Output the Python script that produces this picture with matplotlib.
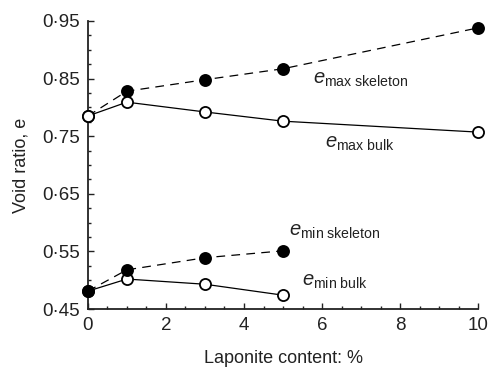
import matplotlib
matplotlib.use('Agg')
import matplotlib.pyplot as plt
from matplotlib.ticker import MultipleLocator, FixedLocator, FuncFormatter

plt.rcParams['font.family'] = ['Liberation Sans', 'DejaVu Sans']
plt.rcParams['mathtext.fontset'] = 'custom'
plt.rcParams['mathtext.rm'] = 'Liberation Sans'
plt.rcParams['mathtext.it'] = 'Liberation Sans:italic'

# laponite content (%) and void ratios
lap = [0, 1, 3, 5, 10]
emax_skeleton = [0.785, 0.828, 0.848, 0.867, 0.938]
emax_bulk = [0.785, 0.809, 0.792, 0.776, 0.757]
lap_min = [0, 1, 3, 5]
emin_skeleton = [0.481, 0.518, 0.539, 0.551]
emin_bulk = [0.481, 0.502, 0.493, 0.474]
yticks = [0.45, 0.55, 0.65, 0.75, 0.85, 0.95]

fig = plt.figure(figsize=(4.88, 3.67), dpi=100)
ax = fig.add_axes([0.180, 0.158, 0.800, 0.785])

lw = 0.9
ms = 8.0
mew = 1.3
dash = (7, 5)

# e max: bulk drawn over skeleton at 0 %
ax.plot(lap, emax_skeleton, color='k', lw=lw, dashes=dash, marker='o', ms=ms,
        mfc='k', mec='k', mew=mew, zorder=3)
ax.plot(lap, emax_bulk, color='k', lw=lw, marker='o', ms=ms,
        mfc='white', mec='k', mew=mew, zorder=4)
# e min: skeleton drawn over bulk at 0 %
ax.plot(lap_min, emin_bulk, color='k', lw=lw, marker='o', ms=ms,
        mfc='white', mec='k', mew=mew, zorder=3)
ax.plot(lap_min, emin_skeleton, color='k', lw=lw, dashes=dash, marker='o', ms=ms,
        mfc='k', mec='k', mew=mew, zorder=4)

lab = dict(fontsize=14.5, color='#222222', va='center', ha='left')
ax.text(5.77, 0.849, r'$e_{\rm max\ skeleton}$', **lab)
ax.text(6.08, 0.738, r'$e_{\rm max\ bulk}$', **lab)
ax.text(5.15, 0.584, r'$e_{\rm min\ skeleton}$', **lab)
ax.text(5.49, 0.497, r'$e_{\rm min\ bulk}$', **lab)

ax.set_xlim(0, 10)
ax.set_ylim(0.45, 0.95)
ax.xaxis.set_major_locator(MultipleLocator(2))
ax.xaxis.set_minor_locator(MultipleLocator(0.5))
ax.yaxis.set_major_locator(FixedLocator(yticks))
ax.yaxis.set_minor_locator(MultipleLocator(0.025))
ax.yaxis.set_major_formatter(FuncFormatter(lambda v, p: f'{v:.2f}'.replace('.', '·')))
ax.xaxis.set_major_formatter(FuncFormatter(lambda v, p: f'{v:.0f}'))

for s in ['top', 'right']:
    ax.spines[s].set_visible(False)
for s in ['left', 'bottom']:
    ax.spines[s].set_linewidth(1.3)
    ax.spines[s].set_color('#222222')

ax.tick_params(which='both', direction='in', color='#222222', width=1.0,
               labelsize=13.5, labelcolor='#222222')
ax.tick_params(which='major', length=4.5, pad=6)
ax.tick_params(which='minor', length=2.5)

ax.set_xlabel('Laponite content: %', fontsize=13, color='#222222', labelpad=11)
ax.set_ylabel('Void ratio, e', fontsize=13, color='#222222', labelpad=9)

for line in ax.lines:
    line.set_clip_on(False)

fig.savefig('out.png', dpi=100)
